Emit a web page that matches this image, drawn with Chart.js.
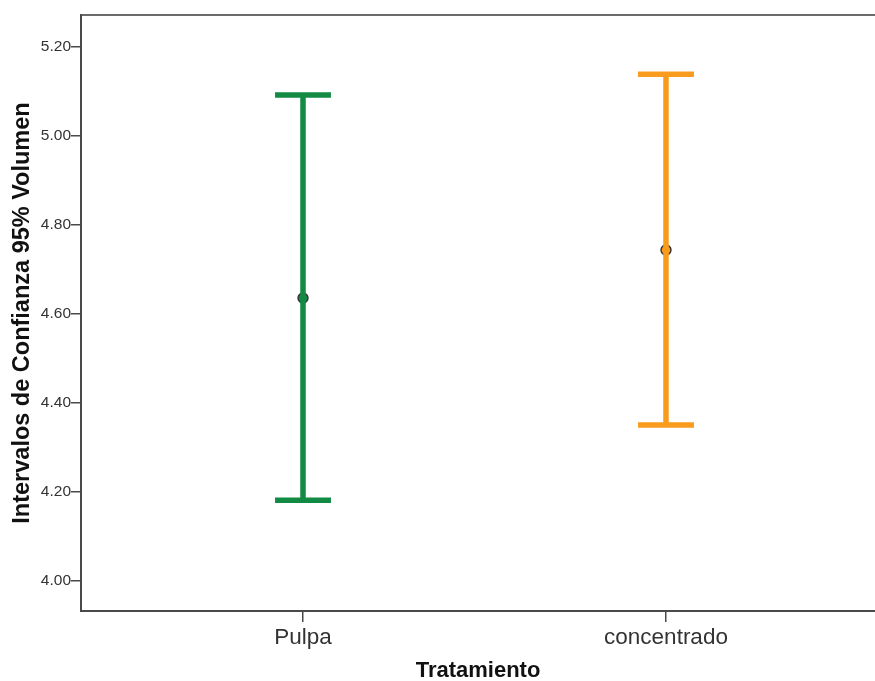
<!DOCTYPE html>
<html>
<head>
<meta charset="utf-8">
<script src="https://cdn.jsdelivr.net/npm/chart.js@4/dist/chart.umd.min.js"></script>
<style>
  html, body { margin: 0; padding: 0; background: #fff; }
  #wrap { width: 875px; height: 681px; }
</style>
</head>
<body>
<div id="wrap"><canvas id="c" width="875" height="681"></canvas></div>
<script>
// Treatment groups and their 95% confidence intervals for Volumen
const categories = ['Pulpa', 'concentrado'];
const means = [4.636, 4.744];
const lower = [4.182, 4.351];
const upper = [5.092, 5.139];
const colors = ['#128a43', '#f99b1c'];
const yTicks = [4.00, 4.20, 4.40, 4.60, 4.80, 5.00, 5.20];

const capHalf = 0.077; // half-width of the interval caps, in category units
const axisColor = '#4a4a4a';
const font = "'Liberation Sans', Arial, sans-serif";

const datasets = [];
categories.forEach((cat, i) => {
  // vertical whisker
  datasets.push({
    type: 'line',
    data: [{x: i, y: lower[i]}, {x: i, y: upper[i]}],
    borderColor: colors[i], borderWidth: 5.5, pointRadius: 0, borderCapStyle: 'butt'
  });
  // top cap
  datasets.push({
    type: 'line',
    data: [{x: i - capHalf, y: upper[i]}, {x: i + capHalf, y: upper[i]}],
    borderColor: colors[i], borderWidth: 5.5, pointRadius: 0, borderCapStyle: 'butt'
  });
  // bottom cap
  datasets.push({
    type: 'line',
    data: [{x: i - capHalf, y: lower[i]}, {x: i + capHalf, y: lower[i]}],
    borderColor: colors[i], borderWidth: 5.5, pointRadius: 0, borderCapStyle: 'butt'
  });
});
// mean markers
datasets.push({
  type: 'scatter',
  data: categories.map((c, i) => ({x: i, y: means[i]})),
  pointRadius: 5,
  pointBackgroundColor: colors,
  pointBorderColor: '#333333',
  pointBorderWidth: 1.4
});

const noSidePad = s => { s.paddingLeft = 0; s.paddingRight = 0; };

new Chart(document.getElementById('c'), {
  data: { datasets },
  options: {
    responsive: false,
    animation: false,
    layout: { autoPadding: false, padding: 0 },
    plugins: { legend: { display: false }, tooltip: { enabled: false } },
    scales: {
      x: {
        type: 'linear',
        position: 'bottom',
        min: -0.6116,
        max: 1.5758,
        afterBuildTicks: s => { s.ticks = categories.map((c, i) => ({value: i})); },
        afterFit: s => { s.height = 70; noSidePad(s); },
        ticks: {
          callback: v => categories[v],
          color: '#333',
          font: { family: font, size: 22.5 },
          padding: 2,
          autoSkip: false,
          maxRotation: 0
        },
        grid: { display: true, drawOnChartArea: false, drawTicks: true, tickLength: 11, color: axisColor, lineWidth: 1.5 },
        border: { display: true, color: axisColor, width: 2 },
        title: {
          display: true,
          text: 'Tratamiento',
          color: '#111',
          font: { family: font, size: 22, weight: 'bold', lineHeight: 0.95 },
          padding: { top: 4, bottom: 0 }
        }
      },
      xTop: {
        type: 'linear',
        position: 'top',
        min: -0.6116,
        max: 1.5758,
        afterFit: s => { s.height = 15; noSidePad(s); },
        ticks: { display: false },
        grid: { display: false },
        border: { display: true, color: '#6a6a6a', width: 2 }
      },
      y: {
        type: 'linear',
        min: 3.933,
        max: 5.272,
        afterBuildTicks: s => { s.ticks = yTicks.map(v => ({value: v})); },
        afterFit: s => { s.width = 81; },
        ticks: {
          callback: v => v.toFixed(2),
          color: '#333',
          font: { family: font, size: 15.5 },
          padding: 0
        },
        grid: { display: true, drawOnChartArea: false, drawTicks: true, tickLength: 10, color: axisColor, lineWidth: 1.5 },
        border: { display: true, color: axisColor, width: 2 },
        title: {
          display: true,
          text: 'Intervalos de Confianza 95% Volumen',
          color: '#111',
          font: { family: font, size: 23.5, weight: 'bold' },
          padding: { top: 8, bottom: 0 }
        }
      }
    }
  }
});
</script>
</body>
</html>
